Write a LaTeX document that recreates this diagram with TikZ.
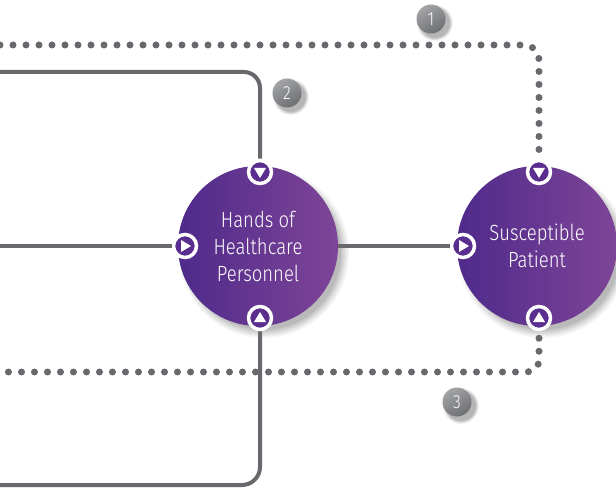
\documentclass[tikz,border=0pt]{standalone}
\usepackage{fontspec}
\newfontfamily\lblfont[FakeStretch=0.84]{Fira Sans Light}
\usetikzlibrary{calc}
\definecolor{linegray}{HTML}{68696C}
\definecolor{purpL}{HTML}{4F2A8B}
\definecolor{purpR}{HTML}{7E4597}
\definecolor{purpM}{HTML}{5A2E8F}
\definecolor{badgeL}{HTML}{A3A4A6}
\definecolor{badgeD}{HTML}{6E6F72}
\tikzset{
  hub/.style={circle, minimum size=160pt, inner sep=0pt, left color=purpL, right color=purpR,
    text=white, align=center, font=\lblfont\fontsize{22}{27}\selectfont},
  marker/.style={circle, draw=white, line width=3.5pt, fill=purpM, minimum size=23pt, inner sep=0pt},
  solidline/.style={draw=linegray, line width=4pt},
  dotline/.style={draw=linegray, line width=7pt, line cap=round, dash pattern=on 0pt off 13pt},
  badge/.style={circle, minimum size=29pt, inner sep=0pt, top color=badgeL, bottom color=badgeD,
    shading angle=30, text=white, font=\lblfont\fontsize{19}{19}\selectfont},
  tri/.style={fill=white}
}
\begin{document}
\begin{tikzpicture}[x=1pt,y=-1pt]
\useasboundingbox (0,0) rectangle (616,489);
\clip (0,0) rectangle (616,489);
\fill[white] (0,0) rectangle (616,489);

% free ends of connectors
\coordinate (topA) at (0,72);
\coordinate (midA) at (0,246);
\coordinate (botA) at (0,485);
\coordinate (dotA) at (0,45);
\coordinate (dotB) at (0,372);

% marker positions
\coordinate (pHT) at (260,172);
\coordinate (pHL) at (185,246);
\coordinate (pHB) at (260,318);
\coordinate (pST) at (539,172);
\coordinate (pSL) at (463,246);
\coordinate (pSB) at (539,318);

% shadows of hubs
\foreach \c in {(264,253),(543,253)}{
  \foreach \r/\o in {85/0.04,83/0.05,81/0.06,79/0.07,77/0.08}
    \fill[black, opacity=\o] \c circle (\r pt);
}

\node[hub] (hands) at (258,246) {Hands of\\Healthcare\\Personnel};
\node[hub] (patient) at (537,246) {Susceptible\\Patient};

% markers
\node[marker] (mHT) at (pHT) {};
\node[marker] (mHL) at (pHL) {};
\node[marker] (mHB) at (pHB) {};
\node[marker] (mST) at (pST) {};
\node[marker] (mSL) at (pSL) {};
\node[marker] (mSB) at (pSB) {};

% connectors
\draw[solidline, rounded corners=16pt] (topA) -| (mHT);
\draw[solidline] (midA) -- (mHL);
\draw[solidline] (hands) -- (mSL);
\draw[solidline, rounded corners=18pt] (mHB) |- (botA);
\draw[dotline, rounded corners=15pt] (dotA) -| (mST);
\draw[dotline, rounded corners=12pt, dash phase=6pt] (mSB) |- (dotB);

% triangles in markers
\fill[tri, shift={(mHT.center)}] (-6,-4) -- (6,-4) -- (0,6) -- cycle;
\fill[tri, shift={(mST.center)}] (-6,-4) -- (6,-4) -- (0,6) -- cycle;
\fill[tri, shift={(mHL.center)}] (-4,-6) -- (-4,6) -- (6,0) -- cycle;
\fill[tri, shift={(mSL.center)}] (-4,-6) -- (-4,6) -- (6,0) -- cycle;
\fill[tri, shift={(mHB.center)}] (-6,4) -- (6,4) -- (0,-6) -- cycle;
\fill[tri, shift={(mSB.center)}] (-6,4) -- (6,4) -- (0,-6) -- cycle;

% badge shadows
\foreach \c in {(435,23),(291,97),(461,406)}{
  \foreach \r/\o in {18/0.05,17/0.07,16/0.09,15/0.1}
    \fill[black, opacity=\o] \c circle (\r pt);
}
\node[badge] (b1) at (431,19) {1};
\node[badge] (b2) at (287,93) {2};
\node[badge] (b3) at (457,402) {3};
\end{tikzpicture}
\end{document}
